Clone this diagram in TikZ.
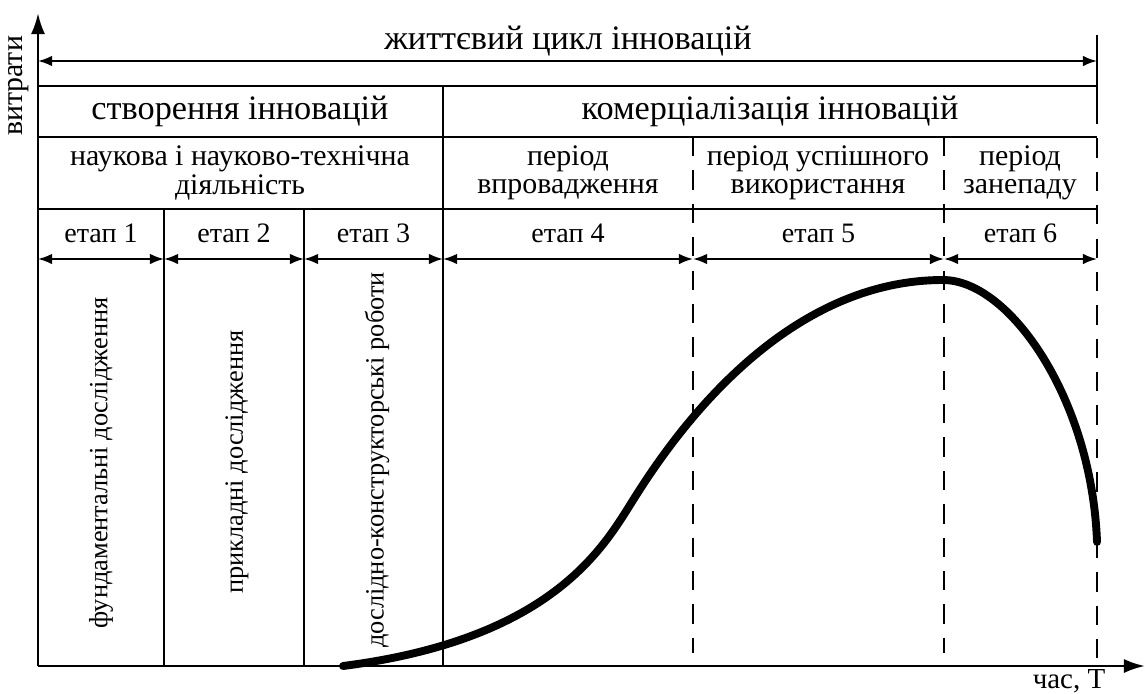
\documentclass[tikz,border=0pt]{standalone}
\usepackage{fontspec}
\setmainfont{Liberation Serif}
\usetikzlibrary{arrows.meta,calc}

\tikzset{
  frame/.style={line width=1.5pt},
  divider/.style={line width=1.5pt, dash pattern=on 11pt off 8pt},
  span/.style={line width=1.1pt, {Latex[length=8pt,width=6pt]}-{Latex[length=8pt,width=6pt]}},
  axis/.style={line width=1.5pt, -{Latex[length=12pt,width=8pt]}},
  bigtext/.style={font=\fontsize{19.5}{22}\selectfont},
  midtext/.style={font=\fontsize{17}{16}\selectfont, align=center},
  stagetext/.style={font=\fontsize{16}{18}\selectfont},
  sidetext/.style={font=\fontsize{15}{18}\selectfont, rotate=90},
}

\begin{document}
\begin{tikzpicture}[x=0.02cm, y=-0.02cm]
  \useasboundingbox (0,0) rectangle (1145,693);

  % column boundaries (x) on the top, header and time axis
  \foreach \n/\x in {a/38, b/164, c/304, d/443, e/693, f/944, g/1097} {
    \coordinate (top\n) at (\x,86);
    \coordinate (mid\n) at (\x,137);
    \coordinate (row\n) at (\x,209);
    \coordinate (arr\n) at (\x,259);
    \coordinate (bot\n) at (\x,666);
    \coordinate (low\n) at (\x,653);
  }
  \coordinate (ytip) at (38,13);
  \coordinate (xtip) at (1145,666);
  \coordinate (lifeL) at (38,61);
  \coordinate (lifeR) at (1097,61);
  \coordinate (endtop) at (1097,35);
  \coordinate (endmid) at (1097,105);

  % axes
  \draw[axis] (bota) -- (ytip);
  \draw[axis] (bota) -- (xtip);
  \node[sidetext, font=\fontsize{17}{19}\selectfont] (ylab) at (19,86) {витрати};
  \node[stagetext, font=\fontsize{16.5}{18}\selectfont] (xlab) at (1069,681) {час, Т};

  % whole life cycle
  \draw[span] (lifeL) -- (lifeR);
  \node[bigtext] (life) at (568,41) {життєвий цикл інновацій};
  \draw[frame] (endtop) -- (endmid);
  \draw[divider] (endmid) -- (botg);

  % table frame
  \draw[frame] (topa) -- (topg);
  \draw[frame] (mida) -- (midg);
  \draw[frame] (rowa) -- (rowg);
  \draw[frame] (topd) -- (botd);
  \draw[frame] (rowb) -- (botb);
  \draw[frame] (rowc) -- (botc);
  \draw[divider] (mide) -- (lowe);
  \draw[divider] (midf) -- (lowf);

  % header texts
  \node[bigtext] (create) at (240,111) {створення інновацій};
  \node[bigtext] (commerce) at (770,111) {комерціалізація інновацій};
  \node[midtext] (science) at (240,173) {наукова і науково-технічна\\діяльність};
  \node[midtext] (intro) at (568,173) {період\\впровадження};
  \node[midtext] (growth) at (818,173) {період успішного\\використання};
  \node[midtext] (decline) at (1020,173) {період\\занепаду};

  % stages
  \foreach \l/\r/\i in {a/b/1, b/c/2, c/d/3, d/e/4, e/f/5, f/g/6} {
    \draw[span] (arr\l) -- (arr\r);
    \node[stagetext] (stage\i) at ($(arr\l)!0.5!(arr\r)+(0,-26)$) {етап \i};
  }

  % research kinds
  \node[sidetext] (fund) at (101,463) {фундаментальні дослідження};
  \node[sidetext] (applied) at (237,462) {прикладні дослідження};
  \node[sidetext] (design) at (377,460) {дослідно-конструкторські роботи};

  % cost curve
  \coordinate (c0) at (343,666);
  \coordinate (c1) at (630,505);
  \coordinate (c2) at (943,280);
  \coordinate (c3) at (1097,542);
  \draw[line width=4.5pt, line cap=round]
    (c0) .. controls (546,640) and (600,553) .. (c1)
         .. controls (660,457) and (771,280) .. (c2)
         .. controls (1010,280) and (1092,400) .. (c3);

\end{tikzpicture}
\end{document}
